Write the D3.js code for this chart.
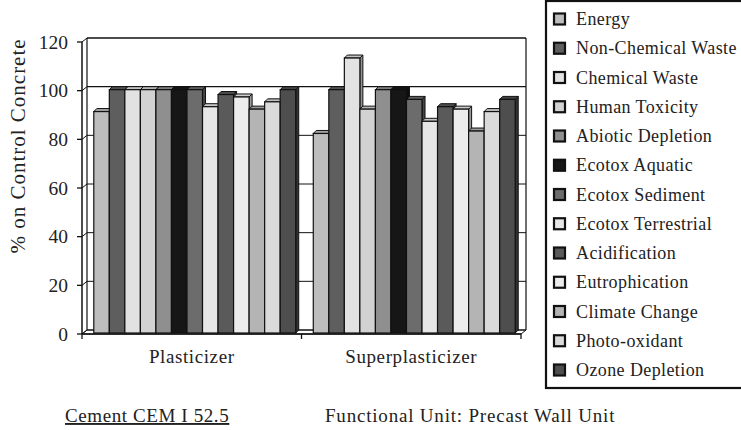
<!DOCTYPE html>
<html>
<head>
<meta charset="utf-8">
<script src="https://cdn.jsdelivr.net/npm/d3@7"></script>
<style>
  body { margin: 0; background: #fff; }
  svg text { font-family: "Liberation Serif", "Times New Roman", serif; fill: #222; }
</style>
</head>
<body>
<svg id="chart" width="741" height="430"></svg>
<script>
// datos
const categories = ["Plasticizer", "Superplasticizer"];
const seriesNames = ["Energy", "Non-Chemical Waste", "Chemical Waste", "Human Toxicity",
  "Abiotic Depletion", "Ecotox Aquatic", "Ecotox Sediment", "Ecotox Terrestrial",
  "Acidification", "Eutrophication", "Climate Change", "Photo-oxidant", "Ozone Depletion"];
const plasticizer = [91, 100, 100, 100, 100, 100, 100, 93, 98, 97, 92, 95, 100];
const superplasticizer = [82, 100, 113, 92, 100, 100, 96, 87, 93, 92, 83, 91, 96];
const yTicks = [0, 20, 40, 60, 80, 100, 120];

// grises de cada serie
const grays = ["#bdbdbd", "#5e5e5e", "#e2e2e2", "#d2d2d2", "#8f8f8f", "#161616", "#6c6c6c",
  "#e6e6e6", "#5a5a5a", "#ececec", "#b4b4b4", "#dadada", "#4e4e4e"];

const svg = d3.select("#chart");
svg.append("rect").attr("width", 741).attr("height", 430).attr("fill", "#fff");

const valuesByCat = { "Plasticizer": plasticizer, "Superplasticizer": superplasticizer };

// escalas: frente (eje) y fondo (pared)
const dx = 5, dy = -4;
const yF = d3.scaleLinear().domain([0, 120]).range([334, 42]);
const yB = v => yF(v) + dy;
const xAxis = d3.scaleBand().domain(categories).range([82, 521]);
const x0 = d3.scaleBand().domain(categories).range([85, 524]).paddingInner(0.08).paddingOuter(0.04);
const x1 = d3.scaleBand().domain(seriesNames).range([0, x0.bandwidth()]);
const color = d3.scaleOrdinal().domain(seriesNames).range(grays);

////////////////////////////////////////////////////// PAREDES Y CUADRICULA
const wall = svg.append("g");
const left = xAxis.range()[0], right = xAxis.range()[1];

// suelo
wall.append("path")
  .attr("d", `M${left},${yF(0)}L${right},${yF(0)}L${right + dx},${yB(0)}L${left + dx},${yB(0)}Z`)
  .attr("fill", "#fff").attr("stroke", "#111").attr("stroke-width", 1);

// lineas de la cuadricula en la pared
yTicks.forEach(function (t) {
  wall.append("line")
    .attr("x1", left + dx).attr("x2", right + dx)
    .attr("y1", yB(t)).attr("y2", yB(t))
    .attr("stroke", "#111").attr("stroke-width", t == 100 || t == 120 ? 1.3 : 1);
  wall.append("line")
    .attr("x1", left).attr("x2", left + dx)
    .attr("y1", yF(t)).attr("y2", yB(t))
    .attr("stroke", "#111").attr("stroke-width", 1);
});

// bordes de la pared
wall.append("line").attr("x1", left + dx).attr("x2", left + dx)
  .attr("y1", yB(0)).attr("y2", yB(120)).attr("stroke", "#111").attr("stroke-width", 1.2);
wall.append("line").attr("x1", right + dx).attr("x2", right + dx)
  .attr("y1", yB(0)).attr("y2", yB(120)).attr("stroke", "#111").attr("stroke-width", 1.2);

////////////////////////////////////////////////////// BARRAS 3D
const bd = 3; // profundidad de la barra
const bars = svg.append("g");
categories.forEach(function (cat) {
  const vals = valuesByCat[cat];
  seriesNames.forEach(function (s, i) {
    const v = vals[i];
    const xl = x0(cat) + x1(s);
    const w = x1.bandwidth();
    const yt = yF(v) - 1, yb = yF(0) - 1;
    const c = d3.color(color(s));
    // cara lateral
    bars.append("path")
      .attr("d", `M${xl + w},${yt}L${xl + w + bd},${yt - bd}L${xl + w + bd},${yb - bd}L${xl + w},${yb}Z`)
      .attr("fill", c.darker(1.2)).attr("stroke", "#111").attr("stroke-width", 1);
    // cara superior
    bars.append("path")
      .attr("d", `M${xl},${yt}L${xl + bd},${yt - bd}L${xl + w + bd},${yt - bd}L${xl + w},${yt}Z`)
      .attr("fill", c.darker(0.4)).attr("stroke", "#111").attr("stroke-width", 1);
    // cara frontal
    bars.append("rect")
      .attr("x", xl).attr("y", yt).attr("width", w).attr("height", yb - yt)
      .attr("fill", color(s)).attr("stroke", "#111").attr("stroke-width", 1.2);
  });
});

////////////////////////////////////////////////////// EJES
const axes = svg.append("g");
axes.append("line").attr("x1", left).attr("x2", left)
  .attr("y1", yF(0)).attr("y2", yF(120)).attr("stroke", "#111").attr("stroke-width", 1.5);
yTicks.forEach(function (t) {
  axes.append("line").attr("x1", left - 5).attr("x2", left)
    .attr("y1", yF(t)).attr("y2", yF(t)).attr("stroke", "#111").attr("stroke-width", 1.3);
  axes.append("text")
    .attr("x", 68).attr("y", yF(t) + 6.5)
    .attr("text-anchor", "end")
    .style("font-size", "19.5px")
    .text(t);
});

axes.append("line").attr("x1", left).attr("x2", right)
  .attr("y1", yF(0)).attr("y2", yF(0)).attr("stroke", "#111").attr("stroke-width", 1.5);
[left, xAxis(categories[1]), right].forEach(function (xv) {
  axes.append("line").attr("x1", xv).attr("x2", xv)
    .attr("y1", yF(0)).attr("y2", yF(0) + 5).attr("stroke", "#111").attr("stroke-width", 1.3);
});
categories.forEach(function (cat) {
  axes.append("text")
    .attr("x", xAxis(cat) + xAxis.bandwidth() / 2)
    .attr("y", 363)
    .attr("text-anchor", "middle")
    .style("font-size", "19px").style("letter-spacing", "0.6px")
    .text(cat);
});

svg.append("text")
  .attr("transform", "translate(25,146) rotate(-90)")
  .attr("text-anchor", "middle")
  .style("font-size", "21px").style("letter-spacing", "1px")
  .text("% on Control Concrete");

////////////////////////////////////////////////////// LEYENDA
const legend = svg.append("g");
legend.append("rect").attr("x", 546).attr("y", 1).attr("width", 210).attr("height", 387)
  .attr("fill", "#fff").attr("stroke", "#111").attr("stroke-width", 2.2);
const ly = d3.scalePoint().domain(seriesNames).range([19, 370]);
seriesNames.forEach(function (s) {
  const g = legend.append("g").attr("transform", `translate(0,${ly(s)})`);
  g.append("rect").attr("x", 554).attr("y", -5.5).attr("width", 11).attr("height", 11)
    .attr("fill", color(s)).attr("stroke", "#111").attr("stroke-width", 2.2);
  g.append("text").attr("x", 576).attr("y", 6)
    .style("font-size", "18px").style("letter-spacing", "0.4px")
    .text(s);
});

////////////////////////////////////////////////////// TEXTOS DE ABAJO
svg.append("text").attr("x", 65).attr("y", 422)
  .style("font-size", "19px").style("letter-spacing", "0.6px")
  .style("text-decoration", "underline")
  .text("Cement CEM I 52.5");
svg.append("text").attr("x", 325).attr("y", 422)
  .style("font-size", "19px").style("letter-spacing", "0.8px")
  .text("Functional Unit: Precast Wall Unit");
</script>
</body>
</html>
